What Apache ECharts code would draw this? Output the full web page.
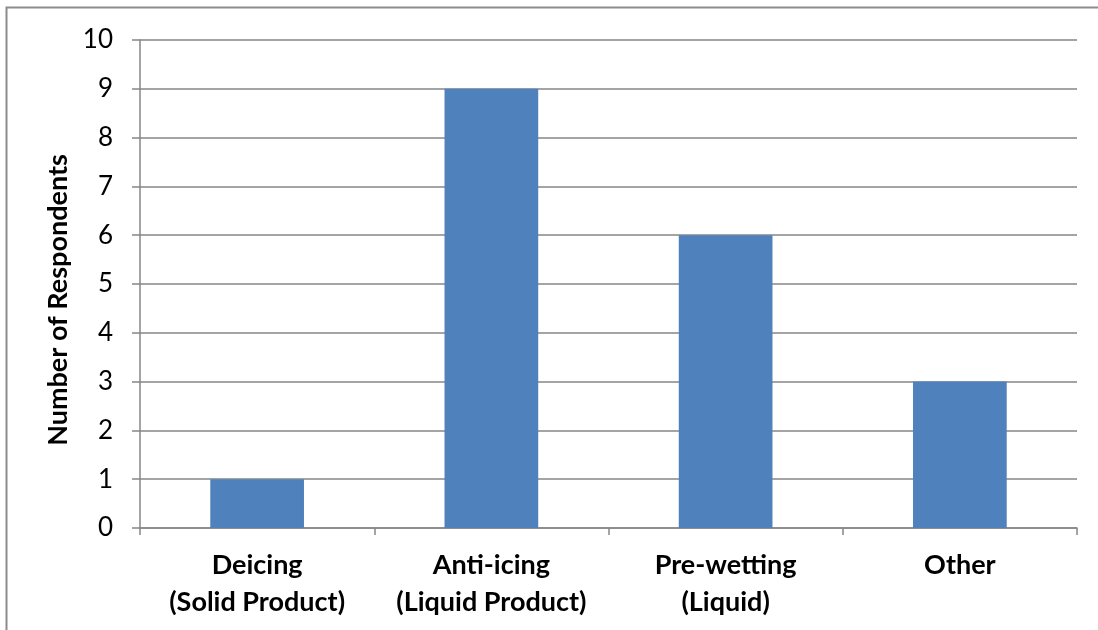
<!DOCTYPE html>
<html><head><meta charset="utf-8">
<script src="https://cdn.jsdelivr.net/npm/echarts@6/dist/echarts.min.js"></script>
<style>html,body{margin:0;padding:0;background:#fff}#c{width:1098px;height:630px}</style>
</head><body><div id="c"></div>
<script>
var categories = ["Deicing\n(Solid Product)", "Anti-icing\n(Liquid Product)", "Pre-wetting\n(Liquid)", "Other"];
var values = [1, 9, 6, 3];
var yAxisTitle = "Number of Respondents";
var FONT = "Lato, 'Open Sans', sans-serif";
var chart = echarts.init(document.getElementById('c'), null, {renderer: 'canvas'});
chart.setOption({
  animation: false,
  backgroundColor: '#fff',
  graphic: [{type: 'rect', shape: {x: 6.5, y: 7.5, width: 1100, height: 700}, style: {fill: 'none', stroke: '#8c8c8c', lineWidth: 2}, silent: true}],
  grid: {left: 140, right: 21, top: 40, bottom: 102, containLabel: false},
  xAxis: {
    type: 'category', data: categories, boundaryGap: true,
    axisLine: {lineStyle: {color: '#868686', width: 1.5}},
    axisTick: {show: true, alignWithLabel: false, length: 7, lineStyle: {color: '#868686', width: 1.5}},
    axisLabel: {color: '#000', fontFamily: FONT, fontWeight: 'bold', fontSize: 27, lineHeight: 37, margin: 19, interval: 0}
  },
  yAxis: {
    type: 'value', min: 0, max: 10, interval: 1,
    name: yAxisTitle, nameLocation: 'middle', nameGap: 64,
    nameTextStyle: {color: '#000', fontFamily: FONT, fontWeight: 'bold', fontSize: 27, padding: [0, 32, 0, 0]},
    axisLine: {show: true, lineStyle: {color: '#868686', width: 1.5}},
    axisTick: {show: true, length: 8, lineStyle: {color: '#868686', width: 1.5}},
    splitLine: {show: true, lineStyle: {color: '#868686', width: 1.5}},
    axisLabel: {color: '#000', fontFamily: FONT, fontSize: 26, margin: 27}
  },
  series: [{type: 'bar', data: values, barWidth: '40%', itemStyle: {color: '#4F81BD'}}]
});
</script></body></html>
